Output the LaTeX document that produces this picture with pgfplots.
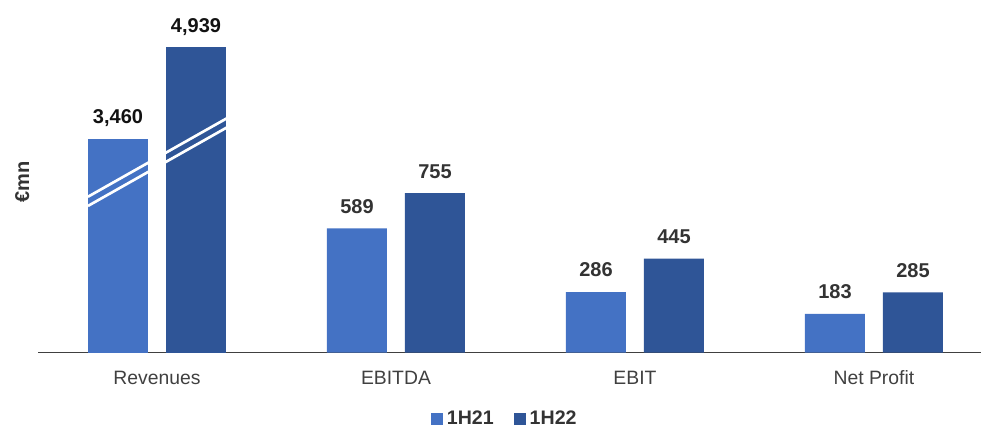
\documentclass[border=0pt]{standalone}
\usepackage{fontspec}
\setmainfont{Liberation Sans}
\usepackage{pgfplots}
\pgfplotsset{compat=1.18}

\definecolor{hOne}{HTML}{4472C4}
\definecolor{hTwo}{HTML}{2F5597}
\definecolor{axisgray}{HTML}{404040}
\definecolor{labelgray}{HTML}{404040}
\definecolor{valgray}{HTML}{333333}

% shared geometry of both overlaid axes
\pgfplotsset{
  chartbase/.style={
    at={(28.5pt,56.6pt)}, anchor=south west,
    scale only axis, width=707.25pt, height=256.5pt,
    xmin=-0.498, xmax=3.448, ymin=0,
    ybar, bar width=45pt,
    axis y line=none,
    axis x line=bottom,
    x axis line style={axisgray, line width=1.1pt, -},
    major tick length=0pt,
    ytick=\empty,
    xtick={0,1,2,3},
    clip=false,
    nodes near coords={\pgfmathprintnumber[assume math mode=true,fixed,precision=0,1000 sep={,}]{\pgfplotspointmeta}},
    every node near coord/.append style={anchor=base, yshift=11.4pt, inner sep=0pt,
      font=\fontsize{15}{18}\selectfont\bfseries},
  },
}

\begin{document}
\begin{tikzpicture}
\useasboundingbox (0,0) rectangle (735.75pt,321pt);

% EBITDA, EBIT and Net Profit on the regular scale
\begin{axis}[chartbase,
  ymax=1621,
  xticklabels={Revenues,EBITDA,EBIT,Net Profit},
  xticklabel style={anchor=base, yshift=-24pt, inner sep=0pt, text=labelgray,
    font=\fontsize{14.5}{17}\selectfont},
  every node near coord/.append style={text=valgray},
  legend columns=2,
  legend style={at={(axis description cs:0.496,-0.194)}, anchor=center, draw=none, fill=none,
    inner sep=0pt, font=\fontsize{14.7}{17}\selectfont\bfseries, text=valgray,
    /tikz/every even column/.append style={column sep=12pt},
    nodes={inner xsep=3pt, inner ysep=0pt}},
  legend image code/.code={\fill[#1] (0pt,-4.5pt) rectangle (9pt,4.5pt);},
]
\addplot[fill=hOne, draw=none, bar shift=-29.25pt] coordinates {(1,589) (2,286) (3,183)};
\addplot[fill=hTwo, draw=none, bar shift=29.25pt] coordinates {(1,755) (2,445) (3,285)};
\legend{1H21,1H22}
\end{axis}

% Revenues on a compressed scale, with a break mark across both bars
\begin{axis}[chartbase,
  ymax=5537,
  xticklabels={},
  axis x line=none,
  every node near coord/.append style={text=black!93},
]
\addplot[fill=hOne, draw=none, bar shift=-29.25pt] coordinates {(0,3460)};
\addplot[fill=hTwo, draw=none, bar shift=29.25pt] coordinates {(0,4939)};
\draw[white, line width=2pt] (axis cs:-0.289,2522) -- (axis cs:0.292,3792);
\draw[white, line width=2pt] (axis cs:-0.289,2373) -- (axis cs:0.292,3643);
\end{axis}

\node[rotate=90, anchor=base, inner sep=0pt, text=valgray,
  font=\fontsize{15}{18}\selectfont\bfseries] at (21.75pt,184.5pt) {€mn};
\end{tikzpicture}
\end{document}
